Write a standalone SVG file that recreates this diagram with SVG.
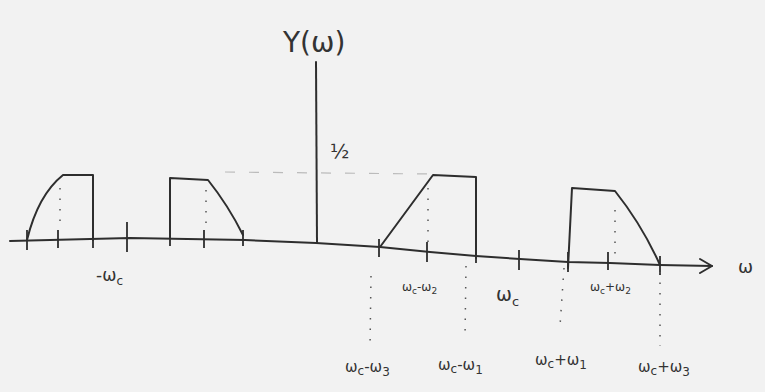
<svg xmlns="http://www.w3.org/2000/svg" width="765" height="392" viewBox="0 0 765 392">
<defs>
<style>
.ln{fill:none;stroke:#2e2e2e;stroke-width:2;stroke-linecap:round;stroke-linejoin:round}
.tk{fill:none;stroke:#2e2e2e;stroke-width:1.8}
.dot{fill:none;stroke:#555;stroke-width:1.5;stroke-dasharray:1.5 9}
.dash{fill:none;stroke:#bbb;stroke-width:1.2;stroke-dasharray:10 14}
.t{font-family:"DejaVu Sans","Liberation Sans",sans-serif;fill:#333;font-size:15px}
.s{font-family:"DejaVu Sans","Liberation Sans",sans-serif;fill:#333;font-size:12px}
</style>
</defs>
<rect width="765" height="392" fill="#f2f2f2"/>
<g id="axes">
<polyline class="ln" points="10,241 130,238 245,240 316,243 380,247 430,252 476,256 520,259 568,262 610,263 660,265 712,266"/>
<polyline class="ln" points="700,259 712,266 700,273"/>
<line class="ln" x1="316" y1="62" x2="317" y2="243"/>
<text class="t" x="738" y="273" style="font-size:18px">ω</text>
<text class="t" x="283" y="52" style="font-size:28px">Y(ω)</text>
<text class="t" x="330" y="158" style="font-size:20px">½</text>
<line class="dash" x1="225" y1="172" x2="430" y2="174"/>
</g>
<g id="ticks">
<path class="tk" d="M27,230V250 M58,230V248 M93,228V248 M127,222V252 M170,228V246 M204,230V248 M243,230V246 M379,239V257 M427,242V262 M476,245V263 M519,250V270 M568,252V272 M608,252V270 M660,256V275"/>
</g>
<g id="left-spectrum">
<path class="ln" d="M27,240 Q38,195 63,175 L93,175 L93,240"/>
<path class="ln" d="M170,237 L170,178 L208,180 Q228,205 243,235"/>
<line class="dot" x1="60" y1="188" x2="60" y2="222"/>
<line class="dot" x1="206" y1="190" x2="206" y2="228"/>
<text class="t" x="96" y="281" style="font-size:17px">-ω<tspan class="s" dy="4">c</tspan></text>
</g>
<g id="right-spectrum">
<path class="ln" d="M380,247 L433,175 L476,177 L476,258"/>
<path class="ln" d="M568,268 L572,188 L615,191 Q642,225 660,265"/>
<line class="dot" x1="428" y1="188" x2="428" y2="243"/>
<line class="dot" x1="615" y1="210" x2="615" y2="258"/>
<line class="dot" x1="371" y1="276" x2="370" y2="348"/>
<line class="dot" x1="466" y1="266" x2="465" y2="338"/>
<line class="dot" x1="564" y1="268" x2="560" y2="326"/>
<line class="dot" x1="660" y1="272" x2="660" y2="346"/>
<text class="s" x="402" y="291">ω<tspan style="font-size:9px" dy="3">c</tspan><tspan dy="-3">-ω</tspan><tspan style="font-size:9px" dy="3">2</tspan></text>
<text class="t" x="496" y="301" style="font-size:19px">ω<tspan style="font-size:13px" dy="5">c</tspan></text>
<text class="s" x="590" y="291">ω<tspan style="font-size:9px" dy="3">c</tspan><tspan dy="-3">+ω</tspan><tspan style="font-size:9px" dy="3">2</tspan></text>
<text class="t" x="345" y="372">ω<tspan class="s" dy="3">c</tspan><tspan dy="-3">-ω</tspan><tspan class="s" dy="4">3</tspan></text>
<text class="t" x="438" y="370">ω<tspan class="s" dy="3">c</tspan><tspan dy="-3">-ω</tspan><tspan class="s" dy="4">1</tspan></text>
<text class="t" x="535" y="365">ω<tspan class="s" dy="3">c</tspan><tspan dy="-3">+ω</tspan><tspan class="s" dy="4">1</tspan></text>
<text class="t" x="638" y="372">ω<tspan class="s" dy="3">c</tspan><tspan dy="-3">+ω</tspan><tspan class="s" dy="4">3</tspan></text>
</g>
</svg>
